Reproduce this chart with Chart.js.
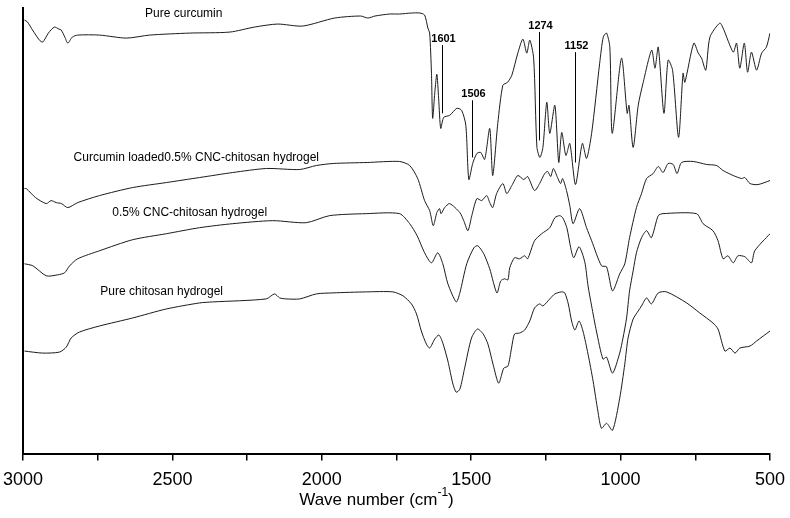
<!DOCTYPE html>
<html lang="en">
<head>
<meta charset="UTF-8">
<title>FTIR spectra</title>
<script src="https://cdn.jsdelivr.net/npm/chart.js"></script>
<style>
  html, body { margin: 0; padding: 0; background: #fff; }
  .box { width: 790px; height: 518px; position: relative; }
</style>
</head>
<body>
<div class="box"><canvas id="ftir"></canvas></div>
<script>
// wave numbers (cm-1) and transmittance (arbitrary units, curves stacked)
const wnCurcumin = [2995,2985,2968,2945,2934,2915,2895,2880,2872,2860,2850,2835,2817,2744,2654,2576,2442,2308,2225,2148,2064,1957,1870,1846,1822,1773,1740,1700,1672,1656,1645,1639,1633,1629,1622,1615,1609,1602,1592,1572,1548,1532,1518,1508,1495,1481,1468,1455,1438,1428,1411,1394,1378,1364,1344,1327,1314,1304,1291,1280,1270,1260,1247,1237,1220,1207,1197,1183,1170,1151,1128,1114,1097,1070,1058,1047,1036,1028,997,978,972,958,941,925,896,885,874,855,841,826,806,791,785,755,740,729,715,701,668,657,623,612,601,586,575,562,545,528,512,500];
const tCurcumin = [433,431,423,413,411,420,426,424,423,416,410,416,418,418,415,418,420,421,426,429,427,435,437,435,437,439,439,440,440,438,425,420,380,335,360,379,355,325,336,338,345,343,328,274,290,300,301,294,325,278,330,368,371,378,400,414,400,413,395,306,296,306,351,320,348,291,321,298,310,269,310,295,320,390,416,420,406,320,395,340,348,306,348,370,403,385,406,340,393,383,316,380,371,410,400,395,383,416,430,425,401,410,385,410,381,401,383,400,406,420];

const wnLoaded = [2995,2989,2958,2922,2906,2889,2871,2850,2817,2744,2633,2520,2409,2298,2185,2074,2018,1962,1848,1740,1706,1679,1656,1639,1627,1615,1606,1601,1589,1572,1538,1525,1511,1498,1481,1465,1448,1438,1428,1415,1394,1381,1364,1344,1324,1311,1288,1271,1254,1244,1234,1225,1211,1201,1194,1181,1170,1159,1137,1114,1097,1064,1047,1027,1003,986,970,947,930,913,891,874,858,841,824,811,796,757,712,679,657,623,595,584,567,540,500];
const tLoaded = [265,265,256,250,253,251,250,246,251,258,266,271,276,281,285,284,288,290,291,292,288,275,253,243,228,241,245,240,246,250,241,233,223,238,255,253,258,251,246,260,270,260,268,278,274,277,263,270,280,282,277,285,276,270,275,263,248,230,245,226,213,188,187,163,180,190,216,246,260,275,280,287,281,290,289,280,291,292,289,288,283,278,275,276,270,269,273];

const wnCnc = [2995,2967,2922,2884,2861,2844,2817,2744,2633,2520,2409,2298,2164,2052,1974,1851,1740,1706,1681,1656,1633,1612,1595,1578,1550,1538,1515,1491,1478,1458,1438,1414,1401,1388,1377,1371,1355,1338,1321,1311,1288,1264,1237,1220,1204,1194,1180,1167,1157,1139,1120,1109,1097,1081,1059,1047,1027,1003,992,980,970,958,947,930,913,897,874,858,746,724,691,674,657,641,623,607,584,562,551,500];
const tCnc = [190,188,178,179,181,188,195,203,214,220,226,230,233,231,238,240,240,230,218,201,191,201,190,170,152,161,190,206,208,200,185,161,173,175,174,186,196,195,198,195,213,220,226,236,238,236,226,206,196,207,192,168,148,123,95,97,81,101,116,136,163,183,201,216,223,216,238,240,240,230,223,213,195,198,191,198,197,191,203,220];

const wnChitosan = [2995,2934,2878,2855,2839,2811,2744,2633,2520,2409,2365,2186,2158,2141,2119,2074,2018,1962,1851,1762,1728,1700,1683,1667,1650,1639,1622,1608,1595,1578,1561,1550,1538,1522,1499,1479,1460,1444,1427,1408,1391,1377,1365,1355,1338,1321,1304,1288,1271,1260,1237,1220,1198,1187,1175,1164,1153,1139,1126,1109,1092,1076,1064,1047,1027,1003,986,975,958,941,930,913,897,874,846,779,735,691,674,651,634,617,601,567,545,500];
const tChitosan = [103,101,102,107,116,122,128,136,145,151,152,155,160,156,155,155,160,161,162,162,158,150,140,123,110,106,115,119,111,93,70,62,65,86,116,125,120,110,90,71,86,88,106,120,121,124,133,146,150,148,155,160,162,161,150,133,124,133,123,100,73,43,26,31,24,56,90,116,135,143,148,156,150,161,162,151,141,131,125,103,106,101,106,108,113,123];

const seriesNames = ['Pure curcumin', 'Curcumin loaded0.5% CNC-chitosan hydrogel', '0.5% CNC-chitosan hydrogel', 'Pure chitosan hydrogel'];
const peakLabels = ['1601', '1506', '1274', '1152'];

function pts(xs, ys) {
  return xs.map((x, i) => ({ x: x, y: ys[i] }));
}

const lineStyle = { borderColor: '#1c1c1c', borderWidth: 1, pointRadius: 0, tension: 0.25, fill: false };

// curve names and peak markers drawn on the canvas
const notes = {
  id: 'notes',
  afterDatasetsDraw(chart) {
    const c = chart.ctx, xs = chart.scales.x, ys = chart.scales.y;
    c.save();
    c.fillStyle = '#000';
    c.font = '12px "Liberation Sans", Arial, sans-serif';
    c.textAlign = 'center';
    c.textBaseline = 'middle';
    const namePos = [[2462, 439], [2420, 296], [2442, 241], [2536, 162]];
    seriesNames.forEach((n, i) => {
      c.fillText(n, xs.getPixelForValue(namePos[i][0]), ys.getPixelForValue(namePos[i][1]));
    });
    // peak lines: wave number, top, bottom
    const marks = [[1598, 408, 340], [1496, 353, 296], [1274, 421, 313], [1152, 401, 291]];
    c.strokeStyle = '#000';
    c.lineWidth = 1;
    c.font = 'bold 11px "Liberation Sans", Arial, sans-serif';
    c.textBaseline = 'bottom';
    marks.forEach((m, i) => {
      const px = Math.round(xs.getPixelForValue(m[0])) + 0.5;
      const top = ys.getPixelForValue(m[1]);
      c.beginPath();
      c.moveTo(px, top);
      c.lineTo(px, ys.getPixelForValue(m[2]));
      c.stroke();
      c.fillText(peakLabels[i], px + 1, top - 1);
    });
    // axis title with superscript
    const mid = (chart.chartArea.left + chart.chartArea.right) / 2;
    c.font = '17px "Liberation Sans", Arial, sans-serif';
    c.textAlign = 'left';
    c.textBaseline = 'alphabetic';
    const main = 'Wave number (cm';
    const sup = '-1';
    const w1 = c.measureText(main).width;
    c.font = '12px "Liberation Sans", Arial, sans-serif';
    const w2 = c.measureText(sup).width;
    c.font = '17px "Liberation Sans", Arial, sans-serif';
    const w3 = c.measureText(')').width;
    let sx = mid - (w1 + w2 + w3) / 2 - 20;
    const base = 505;
    c.fillText(main, sx, base);
    c.font = '12px "Liberation Sans", Arial, sans-serif';
    c.fillText(sup, sx + w1, base - 9);
    c.font = '17px "Liberation Sans", Arial, sans-serif';
    c.fillText(')', sx + w1 + w2, base);
    c.restore();
  }
};

new Chart(document.getElementById('ftir'), {
  type: 'scatter',
  data: {
    datasets: [
      Object.assign({ label: seriesNames[0], data: pts(wnCurcumin, tCurcumin), showLine: true }, lineStyle),
      Object.assign({ label: seriesNames[1], data: pts(wnLoaded, tLoaded), showLine: true }, lineStyle),
      Object.assign({ label: seriesNames[2], data: pts(wnCnc, tCnc), showLine: true }, lineStyle),
      Object.assign({ label: seriesNames[3], data: pts(wnChitosan, tChitosan), showLine: true }, lineStyle)
    ]
  },
  options: {
    responsive: true,
    maintainAspectRatio: false,
    animation: false,
    layout: { padding: { left: 23, right: 20, top: 8, bottom: 18 } },
    plugins: { legend: { display: false }, tooltip: { enabled: false } },
    scales: {
      x: {
        type: 'linear',
        reverse: true,
        min: 500,
        max: 3000,
        afterFit(scale) { scale.paddingLeft = 0; scale.paddingRight = 0; },
        grid: { display: true, drawOnChartArea: false, drawTicks: true, tickLength: 6, color: '#000', lineWidth: 1.5 },
        border: { display: true, color: '#000', width: 2 },
        ticks: {
          stepSize: 250,
          autoSkip: false,
          maxRotation: 0,
          color: '#000',
          padding: 9,
          font: { family: '"Liberation Sans", Arial, sans-serif', size: 18 },
          callback: v => (v % 500 === 0 ? v : '')
        }
      },
      y: {
        min: 0,
        max: 445,
        grid: { display: false, drawTicks: false },
        border: { display: true, color: '#000', width: 2 },
        ticks: { display: false }
      }
    }
  },
  plugins: [notes]
});
</script>
</body>
</html>
